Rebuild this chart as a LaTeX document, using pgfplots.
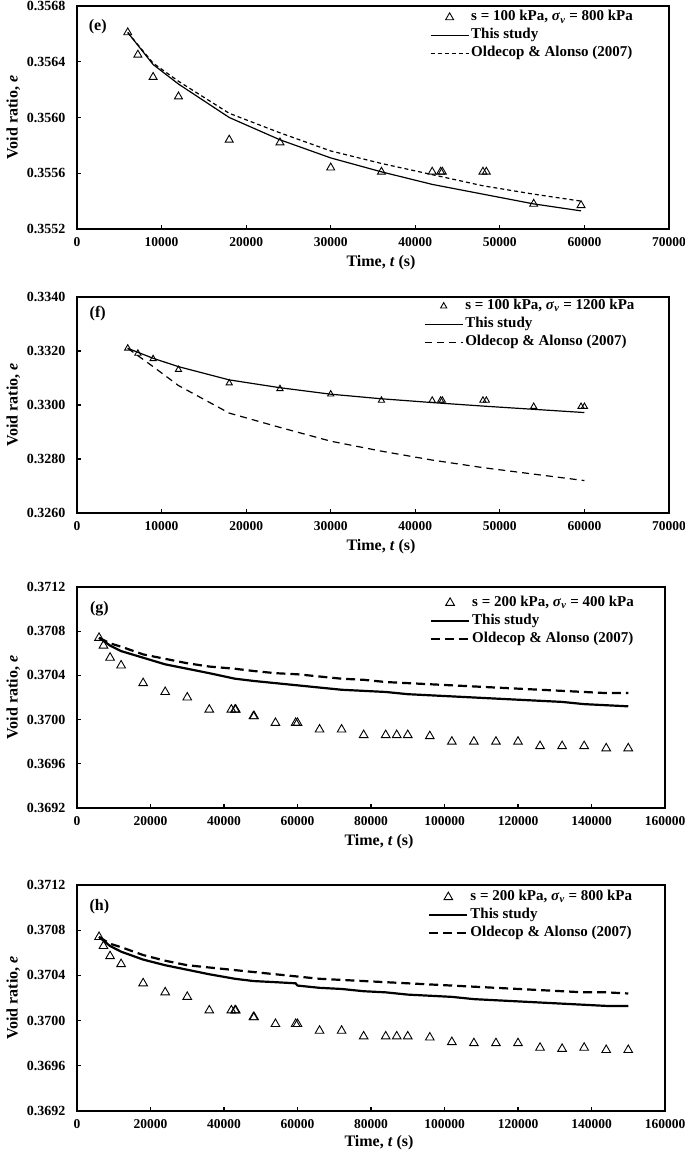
\documentclass[border=0pt]{standalone}
\usepackage{fontspec}
\setmainfont{Liberation Serif}
\usepackage{pgfplots}
\pgfplotsset{compat=1.18}

\pgfplotsset{
  myaxis/.style={
    scale only axis,
    scaled x ticks=false, scaled y ticks=false,
    axis line style={line width=1.6pt},
    tick align=inside,
    xtick pos=left, ytick pos=left,
    major tick length=4pt,
    every tick/.style={black, line width=1.2pt},
    xticklabel style={font=\bfseries\fontsize{13.5}{13.5}\selectfont, yshift=-5pt},
    yticklabel style={font=\bfseries\fontsize{14}{14}\selectfont, xshift=-8pt},
    label style={font=\bfseries\fontsize{16}{16}\selectfont},
    xlabel={Time, \textit{t} (s)},
    ylabel={Void ratio, \textit{e}},
    xlabel style={yshift=-2pt, xshift=8pt},
    legend cell align=left,
    legend style={draw=none, fill=none, anchor=north west, inner sep=0pt,
      font=\bfseries\fontsize{15}{15}\selectfont,
      nodes={inner sep=2pt, text height=10.5pt, text depth=3.5pt}},
  },
  linelegend/.style={legend image code/.code={\draw[##1] (0pt,0pt) -- (38pt,0pt);}},
  marklegend/.style={legend image code/.code={\path (0pt,0pt) (38pt,0pt);\draw[##1] plot coordinates {(19pt,0pt)};}},
  tri/.style={only marks, mark=triangle, mark options={solid, line width=0.9pt, fill=none, draw=black}},
}

\begin{document}
\begin{tikzpicture}
\useasboundingbox (0pt,0pt) rectangle (685pt,1152pt);

% ---------------- (e)
\begin{axis}[myaxis, at={(77pt,923pt)}, width=592pt, height=223pt,
  xmin=0, xmax=70000, ymin=0.3552, ymax=0.3568,
  xtick={0,10000,20000,30000,40000,50000,60000,70000},
  xticklabels={0,10000,20000,30000,40000,50000,60000,70000},
  ytick={0.3552,0.3556,0.3560,0.3564,0.3568},
  yticklabels={0.3552,0.3556,0.3560,0.3564,0.3568},
  legend style={at={(axis description cs:0.596,0.99)}},
]
\addplot[tri, mark size=4.6pt, marklegend] coordinates {
(6000,0.35661) (7200,0.35645) (9000,0.35629) (12000,0.35615) (18000,0.35584)
(24000,0.35582) (30000,0.35564) (36000,0.35561) (42000,0.35561) (43000,0.35561)
(43200,0.35561) (48000,0.35561) (48400,0.35561) (54000,0.35538) (59600,0.35537)};
\addlegendentry{s = 100 kPa, \textit{σ}\textsubscript{\textit{v}} = 800 kPa}
\addplot[black, line width=1.2pt, linelegend] coordinates {
(6000,0.35661) (9000,0.35638) (12000,0.35624) (18000,0.35600) (24000,0.35584)
(30000,0.35571) (36000,0.35561) (42000,0.35552) (48000,0.35545) (54000,0.35538) (59600,0.35533)};
\addlegendentry{This study}
\addplot[black, line width=1.2pt, dash pattern=on 4pt off 3pt, linelegend] coordinates {
(6000,0.35661) (9000,0.35639) (12000,0.35626) (18000,0.35603) (24000,0.35589)
(30000,0.35576) (36000,0.35567) (42000,0.35559) (48000,0.35551) (54000,0.35545) (59600,0.35540)};
\addlegendentry{Oldecop \& Alonso (2007)}
\node[font=\bfseries\fontsize{16}{16}\selectfont] at (axis description cs:0.035,0.906) {(e)};
\end{axis}

% ---------------- (f)
\begin{axis}[myaxis, at={(77pt,639pt)}, width=592pt, height=216pt,
  xmin=0, xmax=70000, ymin=0.3260, ymax=0.3340,
  xtick={0,10000,20000,30000,40000,50000,60000,70000},
  xticklabels={0,10000,20000,30000,40000,50000,60000,70000},
  ytick={0.3260,0.3280,0.3300,0.3320,0.3340},
  yticklabels={0.3260,0.3280,0.3300,0.3320,0.3340},
  legend style={at={(axis description cs:0.586,1.0)}},
]
\addplot[tri, mark size=3.6pt, marklegend] coordinates {
(6000,0.33210) (7200,0.33191) (9000,0.33171) (12000,0.33131) (18000,0.33081)
(24000,0.33060) (30000,0.33040) (36000,0.33017) (42000,0.33017) (43000,0.33017)
(43200,0.33017) (48000,0.33017) (48400,0.33017) (54000,0.32994) (59600,0.32994) (60000,0.32994)};
\addlegendentry{s = 100 kPa, \textit{σ}\textsubscript{\textit{v}} = 1200 kPa}
\addplot[black, line width=1.2pt, linelegend] coordinates {
(6000,0.33210) (9000,0.33173) (12000,0.33142) (18000,0.33093) (24000,0.33064)
(30000,0.33040) (36000,0.33023) (42000,0.33009) (48000,0.32996) (54000,0.32984) (60000,0.32972)};
\addlegendentry{This study}
\addplot[black, line width=1.2pt, dash pattern=on 7pt off 5pt, linelegend] coordinates {
(6000,0.33210) (9000,0.33142) (12000,0.33072) (18000,0.32970) (24000,0.32917)
(30000,0.32866) (36000,0.32829) (42000,0.32796) (48000,0.32768) (54000,0.32744) (60000,0.32720)};
\addlegendentry{Oldecop \& Alonso (2007)}
\node[font=\bfseries\fontsize{16}{16}\selectfont] at (axis description cs:0.035,0.921) {(f)};
\end{axis}

% ---------------- (g)
\begin{axis}[myaxis, at={(77pt,344pt)}, width=588pt, height=221pt,
  xmin=0, xmax=160000, ymin=0.3692, ymax=0.3712,
  xtick={0,20000,40000,60000,80000,100000,120000,140000,160000},
  xticklabels={0,20000,40000,60000,80000,100000,120000,140000,160000},
  ytick={0.3692,0.3696,0.3700,0.3704,0.3708,0.3712},
  yticklabels={0.3692,0.3696,0.3700,0.3704,0.3708,0.3712},
  legend style={at={(axis description cs:0.600,0.97)}},
]
\addplot[tri, mark size=5pt, marklegend] coordinates {
(6000,0.37074) (7200,0.37067) (9000,0.37056) (12000,0.37049) (18000,0.37033)
(24000,0.37025) (30000,0.37020) (36000,0.37009) (42000,0.37009) (43000,0.37009)
(43200,0.37009) (48000,0.37003) (48200,0.37003) (54000,0.36997) (59500,0.36997)
(60000,0.36997) (66000,0.36991) (72000,0.36991) (78000,0.36986) (84000,0.36986)
(87000,0.36986) (90000,0.36986) (96000,0.36985) (102000,0.36980) (108000,0.36980)
(114000,0.36980) (120000,0.36980) (126000,0.36976) (132000,0.36976) (138000,0.36976)
(144000,0.36974) (150000,0.36974)};
\addlegendentry{s = 200 kPa, \textit{σ}\textsubscript{\textit{v}} = 400 kPa}
\addplot[black, line width=2.2pt, linelegend] coordinates {
(6000,0.37074) (9000,0.37067) (12000,0.37062) (18000,0.37056) (24000,0.37050)
(30000,0.37046) (36000,0.37042) (43000,0.37037) (48000,0.37035) (54000,0.37033)
(60000,0.37031) (66000,0.37029) (72000,0.37027) (78000,0.37026) (84000,0.37025)
(90000,0.37023) (96000,0.37022) (102000,0.37021) (108000,0.37020) (114000,0.37019)
(120000,0.37018) (126000,0.37017) (132000,0.37016) (138000,0.37014) (144000,0.37013) (150000,0.37012)};
\addlegendentry{This study}
\addplot[black, line width=2.2pt, dash pattern=on 9pt off 5pt, linelegend] coordinates {
(6000,0.37074) (9000,0.37069) (12000,0.37066) (18000,0.37059) (24000,0.37055)
(30000,0.37051) (36000,0.37048) (43000,0.37046) (48000,0.37044) (54000,0.37042)
(60000,0.37041) (66000,0.37039) (72000,0.37037) (78000,0.37036) (84000,0.37034)
(90000,0.37033) (96000,0.37032) (102000,0.37031) (108000,0.37030) (114000,0.37029)
(120000,0.37028) (126000,0.37027) (132000,0.37026) (138000,0.37025) (144000,0.37024) (150000,0.37024)};
\addlegendentry{Oldecop \& Alonso (2007)}
\node[font=\bfseries\fontsize{16}{16}\selectfont] at (axis description cs:0.038,0.900) {(g)};
\end{axis}

% ---------------- (h)
\begin{axis}[myaxis, at={(77pt,41pt)}, width=588pt, height=226pt,
  xmin=0, xmax=160000, ymin=0.3692, ymax=0.3712,
  xtick={0,20000,40000,60000,80000,100000,120000,140000,160000},
  xticklabels={0,20000,40000,60000,80000,100000,120000,140000,160000},
  ytick={0.3692,0.3696,0.3700,0.3704,0.3708,0.3712},
  yticklabels={0.3692,0.3696,0.3700,0.3704,0.3708,0.3712},
  xticklabel style={yshift=0pt},
  xlabel style={yshift=2pt},
  legend style={at={(axis description cs:0.597,0.987)}},
]
\addplot[tri, mark size=5pt, marklegend] coordinates {
(6000,0.37074) (7200,0.37066) (9000,0.37057) (12000,0.37050) (18000,0.37033)
(24000,0.37025) (30000,0.37021) (36000,0.37009) (42000,0.37009) (43000,0.37009)
(43200,0.37009) (48000,0.37003) (48200,0.37003) (54000,0.36997) (59500,0.36997)
(60000,0.36997) (66000,0.36991) (72000,0.36991) (78000,0.36986) (84000,0.36986)
(87000,0.36986) (90000,0.36986) (96000,0.36985) (102000,0.36981) (108000,0.36980)
(114000,0.36980) (120000,0.36980) (126000,0.36976) (132000,0.36975) (138000,0.36976)
(144000,0.36974) (150000,0.36974)};
\addlegendentry{s = 200 kPa, \textit{σ}\textsubscript{\textit{v}} = 800 kPa}
\addplot[black, line width=2.2pt, linelegend] coordinates {
(6000,0.37074) (9000,0.37066) (12000,0.37061) (18000,0.37054) (24000,0.37049)
(30000,0.37045) (36000,0.37041) (43000,0.37037) (48000,0.37035) (54000,0.37034)
(59500,0.37033) (60000,0.37031) (66000,0.37029) (72000,0.37028) (78000,0.37026)
(84000,0.37025) (90000,0.37023) (96000,0.37022) (102000,0.37021) (108000,0.37019)
(114000,0.37018) (120000,0.37017) (126000,0.37016) (132000,0.37015) (138000,0.37014)
(144000,0.37013) (150000,0.37013)};
\addlegendentry{This study}
\addplot[black, line width=2.2pt, dash pattern=on 9pt off 5pt, linelegend] coordinates {
(6000,0.37074) (9000,0.37068) (12000,0.37065) (18000,0.37058) (24000,0.37053)
(30000,0.37049) (36000,0.37047) (42000,0.37045) (48000,0.37043) (54000,0.37041)
(60000,0.37039) (66000,0.37037) (72000,0.37036) (78000,0.37035) (84000,0.37034)
(90000,0.37033) (96000,0.37032) (102000,0.37031) (108000,0.37030) (114000,0.37029)
(120000,0.37028) (126000,0.37027) (132000,0.37026) (138000,0.37025) (144000,0.37025) (150000,0.37024)};
\addlegendentry{Oldecop \& Alonso (2007)}
\node[font=\bfseries\fontsize{16}{16}\selectfont] at (axis description cs:0.038,0.903) {(h)};
\end{axis}
\end{tikzpicture}
\end{document}
